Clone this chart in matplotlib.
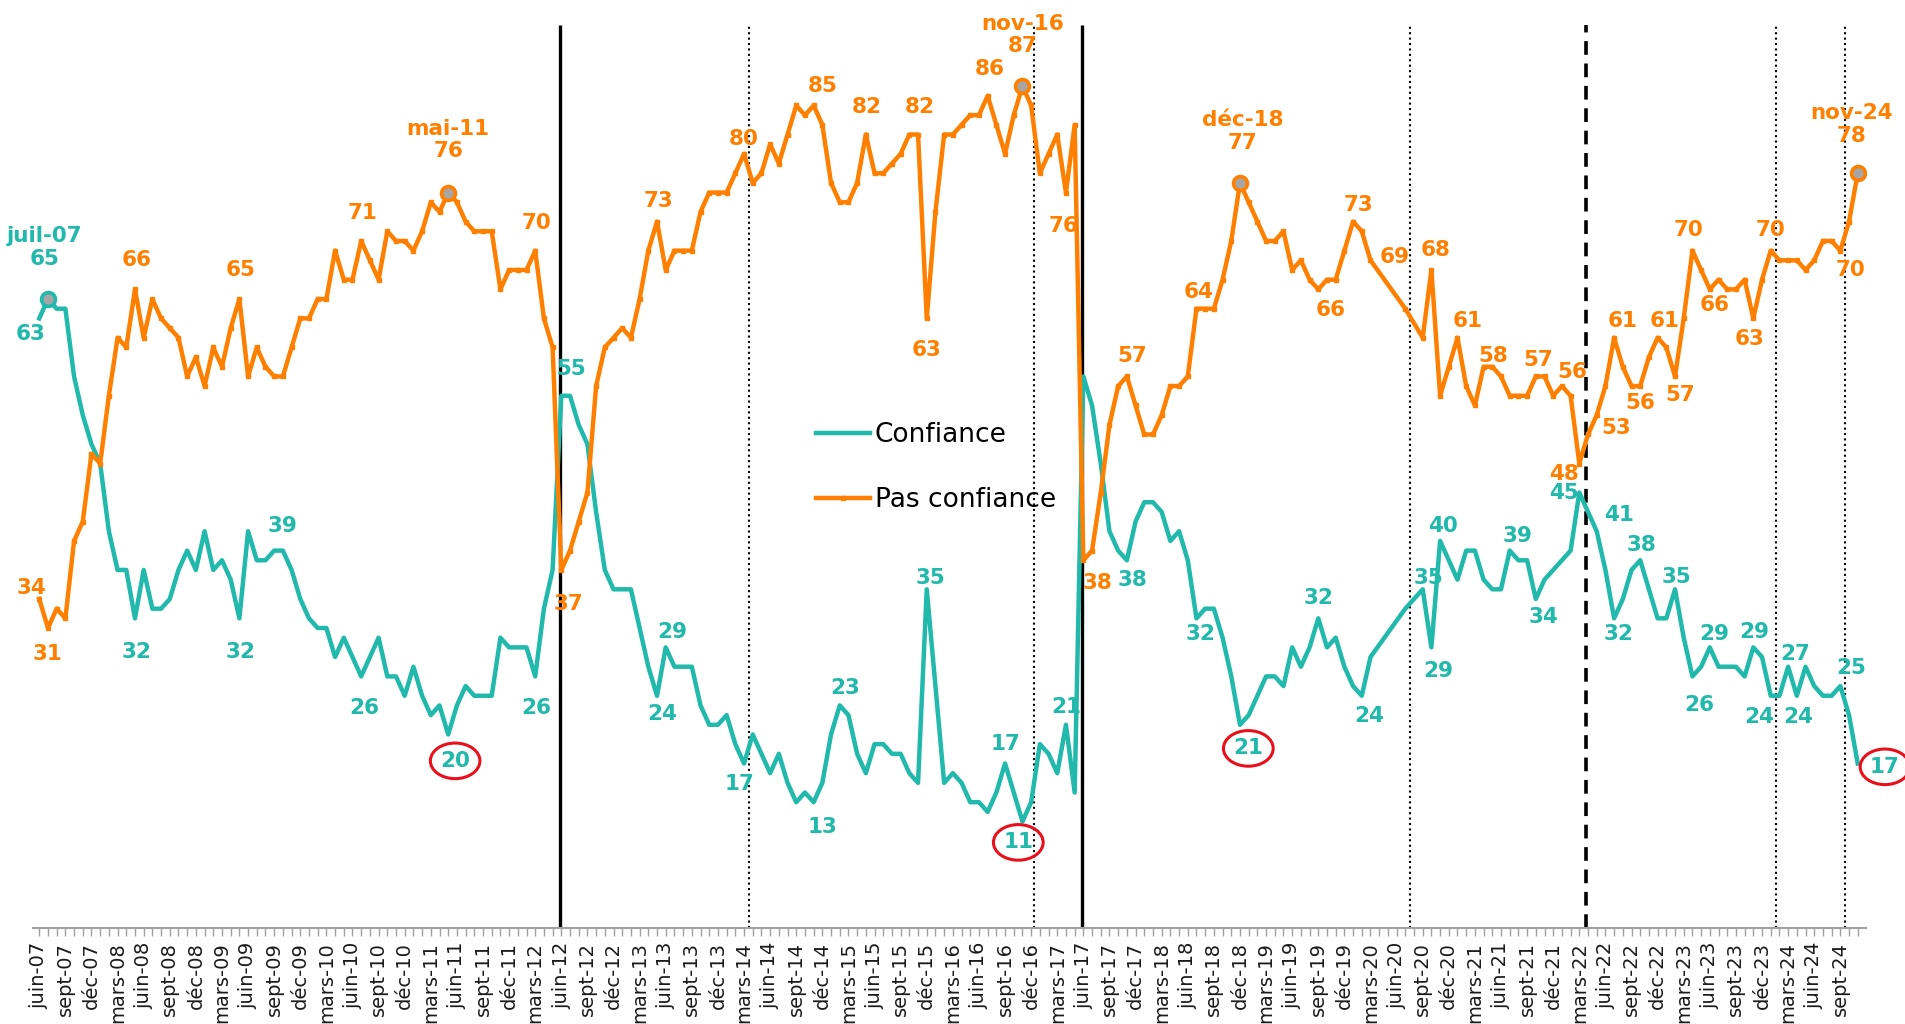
import numpy as np
import pandas as pd
import matplotlib
matplotlib.use("Agg")
import matplotlib.pyplot as plt
from matplotlib.lines import Line2D

# ---------------- data (monthly, starting June 2007) ----------------
START = "2007-06"
conf = [
    63, 65, 64, 64, 57, 53, 50, 48, 41, 37, 37, 32,
    37, 33, 33, 34, 37, 39, 37, 41, 37, 38, 36, 32,
    41, 38, 38, 39, 39, 37, 34, 32, 31, 31, 28, 30,
    28, 26, 28, 30, 26, 26, 24, 27, 24, 22, 23, 20,
    23, 25, 24, 24, 24, 30, 29, 29, 29, 26, 33, 37,
    55, 55, 52, 50, 43, 37, 35, 35, 35, 31, 27, 24,
    29, 27, 27, 27, 23, 21, 21, 22, 19, 17, 20, 18,
    16, 18, 15, 13, 14, 13, 15, 20, 23, 22, 18, 16,
    19, 19, 18, 18, 16, 15, 35, 25, 15, 16, 15, 13,
    13, 12, 14, 17, 14, 11, 13, 19, 18, 16, 21, 14,
    57, 54, 48, 41, 39, 38, 42, 44, 44, 43, 40, 41,
    38, 32, 33, 33, 30, 26, 21, 22, 24, 26, 26, 25,
    29, 27, 29, 32, 29, 30, 27, 25, 24, 28, None, None,
    None, 33, None, 35, 29, 40, 38, 36, 39, 39, 36, 35,
    35, 39, 38, 38, 34, 36, 37, 38, 39, 45, 43, 41,
    37, 32, 34, 37, 38, 35, 32, 32, 35, 30, 26, 27,
    29, 27, 27, 27, 26, 29, 28, 24, 24, 27, 24, 27,
    25, 24, 24, 25, 22, 17,
]
pas_conf = [
    34, 31, 33, 32, 40, 42, 49, 48, 55, 61, 60, 66,
    61, 65, 63, 62, 61, 57, 59, 56, 60, 58, 62, 65,
    57, 60, 58, 57, 57, 60, 63, 63, 65, 65, 70, 67,
    67, 71, 69, 67, 72, 71, 71, 70, 72, 75, 74, 76,
    75, 73, 72, 72, 72, 66, 68, 68, 68, 70, 63, 60,
    37, 39, 42, 45, 56, 60, 61, 62, 61, 65, 70, 73,
    68, 70, 70, 70, 74, 76, 76, 76, 78, 80, 77, 78,
    81, 79, 82, 85, 84, 85, 83, 77, 75, 75, 77, 82,
    78, 78, 79, 80, 82, 82, 63, 74, 82, 82, 83, 84,
    84, 86, 83, 80, 84, 87, 85, 78, 80, 82, 76, 83,
    38, 39, 45, 52, 56, 57, 54, 51, 51, 53, 56, 56,
    57, 64, 64, 64, 67, 71, 77, 75, 73, 71, 71, 72,
    68, 69, 67, 66, 67, 67, 70, 73, 72, 69, None, None,
    None, 64, None, 61, 68, 55, 58, 61, 56, 54, 58, 58,
    57, 55, 55, 55, 57, 57, 55, 56, 55, 48, 51, 53,
    56, 61, 58, 56, 56, 59, 61, 60, 57, 63, 70, 68,
    66, 67, 66, 66, 67, 63, 67, 70, 69, 69, 69, 68,
    69, 71, 71, 70, 73, 78,
]
FR_MONTHS = ["janv", "févr", "mars", "avr", "mai", "juin",
             "juil", "août", "sept", "oct", "nov", "déc"]
series_names = ["Confiance", "Pas confiance"]

# event lines (month position from June 2007)
solid_events = [59.9, 119.8]
dotted_events = [81.6, 114.3, 157.5, 199.6, 207.5]
dashed_events = [177.8]

# ---------------- styling ----------------
TEAL = "#20B9AB"
ORANGE = "#FF8000"
RED = "#E8101A"
GREY = "#A6A6A6"

periods = pd.period_range(START, periods=len(conf), freq="M")
month_labels = [f"{FR_MONTHS[p.month - 1]}-{p.year % 100:02d}" for p in periods]
x_all = np.arange(len(conf))
c_arr = np.array([np.nan if v is None else v for v in conf], dtype=float)
p_arr = np.array([np.nan if v is None else v for v in pas_conf], dtype=float)

fig = plt.figure(figsize=(19.05, 10.24), dpi=100)
W, H = 1905, 1024
ax = fig.add_axes([33 / W, (H - 928) / H, (1866 - 33) / W, 928 / H])
ax.set_xlim(-0.72, 209.95)
ax.set_ylim(0, 95.9)

VTOP = 93.3
ax.vlines(solid_events, 0, VTOP, colors="black", lw=2.4, zorder=1)
ax.vlines(dotted_events, 0, VTOP, colors="black", lw=1.5,
          linestyles=[(0, (1, 1.6))], zorder=1)
ax.vlines(dashed_events, 0, VTOP, colors="black", lw=2.6,
          linestyles=[(0, (3.8, 2.4))], zorder=1)

mc = ~np.isnan(c_arr)
mp = ~np.isnan(p_arr)
ax.plot(x_all[mc], c_arr[mc], color=TEAL, lw=3.2, solid_joinstyle="round", zorder=3)
ax.plot(x_all[mp], p_arr[mp], color=ORANGE, lw=3.2, marker="s", ms=3.2,
        solid_joinstyle="round", zorder=4)

# highlighted points
for idx in [1]:
    ax.plot(idx, c_arr[idx], "o", ms=10, mfc=GREY, mec=TEAL, mew=2.6, zorder=6)
for idx in [47, 113, 138, 209]:
    ax.plot(idx, p_arr[idx], "o", ms=10, mfc=GREY, mec=ORANGE, mew=2.6, zorder=6)

LBL = dict(fontsize=15.5, fontweight="bold", family="DejaVu Sans",
           ha="center", va="center", textcoords="offset points", zorder=7)

def lab(arr, idx, dx, dy, color, dated=False, circled=False):
    txt = f"{arr[idx]:.0f}"
    if dated:
        txt = f"{month_labels[idx]}\n{txt}"
    kw = dict(LBL)
    if dated:
        kw["linespacing"] = 1.15
    if circled:
        kw["bbox"] = dict(boxstyle="ellipse,pad=0.12", fc="none", ec=RED, lw=2.2)
    ax.annotate(txt, (idx, arr[idx]), xytext=(dx, dy), color=color, **kw)

conf_ann = [(0, -6, -11), (11, 1, -24.5), (23, 1, -24.5), (27, 6, 18), (37, 2, -23),
            (57, 1, -23), (60, 7, 19.5), (71, 3.5, -13), (72, 4.5, 11), (81, -3, -15),
            (89, 6.5, -17.5), (92, 4, 12.7), (102, 3, 8.5), (111, 0, 14), (118, 0, 12.6),
            (125, 4, -14), (133, 3, -11), (147, 0, 15), (152, 5, -14.5), (159, 4, 8.5),
            (160, 5, -17), (161, 2, 11), (169, 6, 10.5), (172, 5.5, -13), (177, -11, 0),
            (179, 16, 11.4), (181, 3, -11), (184, 1, 11), (188, 1.4, 8.7), (190, 4.6, -20.5),
            (192, 3.5, 9.4), (197, 1, 11), (199, -8, -15), (201, 5, 9), (202, 1.3, -15),
            (207, 7.6, 12.7)]
conf_circled = [(47, 5, -19), (113, -3, -15), (138, 6, -17), (209, 19.6, -2.4)]
conf_dated = [(1, -2.6, 37)]

pas_ann = [(0, -5.5, 7.7), (1, 0, -18.7), (11, 1, 20.8), (23, 1, 20.7), (37, 1, 20),
           (57, 1, 20), (60, 5, -24.5), (71, 1, 15), (81, 0, 10.5), (89, 6.5, 14),
           (95, 1, 20), (101, 1, 20), (102, 0, -23), (109, 1.7, 19.4), (118, -2, -24),
           (120, 10, -16), (125, 4, 14.4), (133, 1.2, 12), (151, 4, 12), (147, 9, -15),
           (153, 17.5, 2.5), (160, 2.7, 14.7), (163, 7.5, 12), (166, 7, 7.5), (172, 2, 12),
           (175, 7.6, 10), (177, -11, -7.4), (179, 14, -9), (181, 6, 12), (183, 6.5, -12),
           (186, 5, 12), (188, 4, -13.6), (190, -3, 15), (192, 3.5, -11.6), (197, -2.5, -15),
           (199, 0, 15), (207, 7.6, -14)]
pas_dated = [(47, 0, 38), (113, 0, 37), (138, 2, 37), (209, -4.5, 35)]

for i, dx, dy in conf_ann:
    lab(c_arr, i, dx, dy, TEAL)
for i, dx, dy in conf_circled:
    lab(c_arr, i, dx, dy, TEAL, circled=True)
for i, dx, dy in conf_dated:
    lab(c_arr, i, dx, dy, TEAL, dated=True)
for i, dx, dy in pas_ann:
    lab(p_arr, i, dx, dy, ORANGE)
for i, dx, dy in pas_dated:
    lab(p_arr, i, dx, dy, ORANGE, dated=True)

# axes styling
for s in ["top", "right", "left"]:
    ax.spines[s].set_visible(False)
ax.spines["bottom"].set_color("#A0A0A0")
ax.spines["bottom"].set_linewidth(1.5)
ax.set_yticks([])
major = x_all[::3]
ax.set_xticks(major)
ax.set_xticklabels([month_labels[i] for i in major], rotation=90,
                   fontsize=14, family="DejaVu Sans", color="#1a1a1a")
ax.set_xticks(x_all, minor=True)
ax.tick_params(axis="x", which="both", direction="out", length=6,
               color="#A0A0A0", width=1, pad=4)

handles = [Line2D([], [], color=TEAL, lw=3.2),
           Line2D([], [], color=ORANGE, lw=3.2, marker="s", ms=3.2)]
fig.legend(handles, series_names, loc="upper left",
           bbox_to_anchor=(816 / W, 1 - 422.5 / H), frameon=False,
           fontsize=19, handlelength=2.03, handletextpad=0.2,
           labelspacing=1.47, borderpad=0, borderaxespad=0)

fig.savefig("out.png", dpi=100)
